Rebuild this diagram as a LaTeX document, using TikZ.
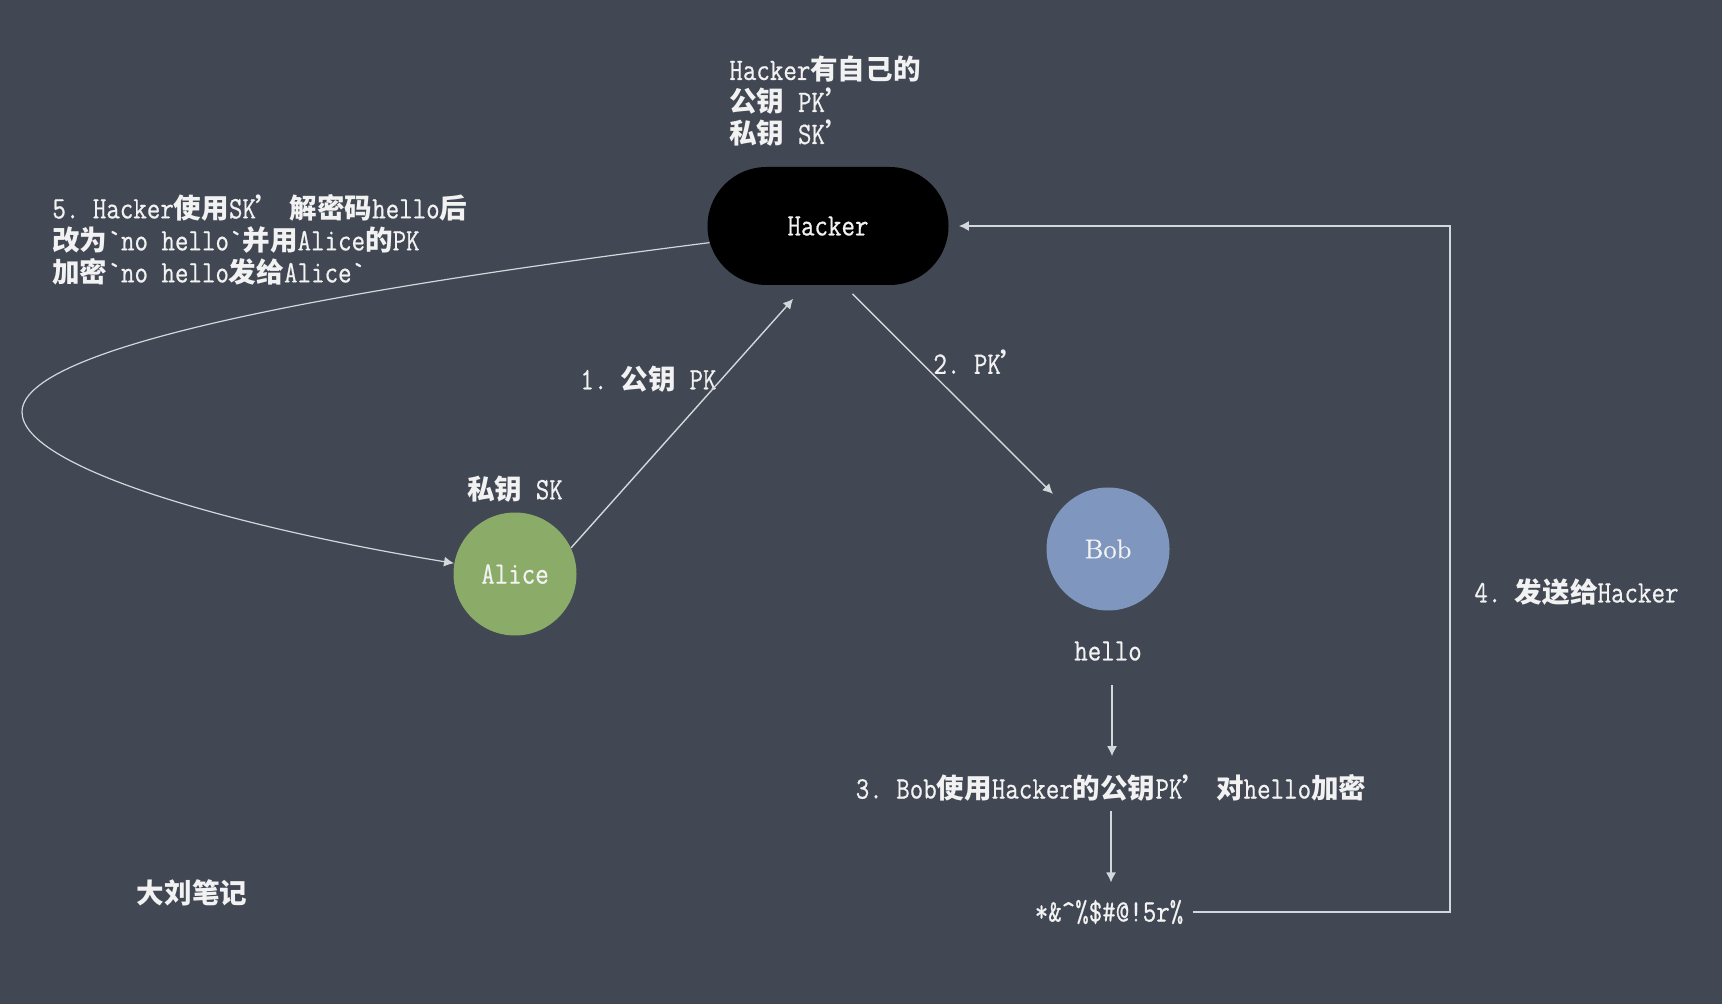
\documentclass[tikz,border=0pt]{standalone}
\usepackage{fontspec}
\setmonofont{Latin Modern Mono}[Scale=1.2, FakeStretch=0.84, FakeBold=0.6]
\newfontfamily\cjk{Noto Sans CJK SC}[Scale=1.06]
\newfontfamily\bobfont{Latin Modern Roman}[FakeBold=0.6]
\usetikzlibrary{arrows.meta,shapes.misc}
\newcommand{\zh}[1]{{\cjk\bfseries #1}}
\definecolor{board}{RGB}{65,71,83}
\definecolor{chalk}{RGB}{242,242,242}
\definecolor{alicegreen}{RGB}{138,172,104}
\definecolor{bobblue}{RGB}{127,151,190}
\definecolor{linec}{RGB}{212,215,219}
\begin{document}
\begin{tikzpicture}[x=0.5pt,y=-0.5pt,
  txt/.style={text=chalk, font=\ttfamily\fontsize{13}{16}\selectfont, inner sep=0pt},
  conn/.style={draw=linec, line width=0.7pt},
  arr/.style={conn, -{Latex[length=5pt,width=5pt]}},
]
\fill[board] (0,0) rectangle (1722,1004);
\useasboundingbox (0,0) rectangle (1722,1004);

\node[rounded rectangle, fill=black, minimum width=120.5pt, minimum height=59pt, inner sep=0pt, txt] (hacker) at (828,226) {Hacker};
\node[circle, fill=alicegreen, minimum size=61.5pt, txt] (alice) at (515,574) {Alice};
\node[circle, fill=bobblue, minimum size=61.5pt, txt, font=\bobfont\fontsize{13.5}{16}\selectfont] (bob) at (1108,549) {Bob};

\node[txt, anchor=north west, align=left] (hinfo) at (729,56) {Hacker\zh{有自己的}\\ \zh{公钥} PK\zh{’}\\ \zh{私钥} SK\zh{’}};
\node[txt, anchor=north west, align=left] (s5) at (52,194) {5. Hacker\zh{使用}SK\zh{’}\hspace{3pt}\zh{解密码}hello\zh{后}\\ \zh{改为}`no hello`\zh{并用}Alice\zh{的}PK\\ \zh{加密}`no hello\zh{发给}Alice`};

\node[txt] (sk) at (515,489) {\zh{私钥} SK};
\node[txt] (hello) at (1108,651) {hello};
\node[txt] (s3) at (1111,788) {3. Bob\zh{使用}Hacker\zh{的公钥}PK\zh{’}\hspace{3pt}\zh{对}hello\zh{加密}};
\node[txt] (cipher) at (1109,912) {*\&\textasciicircum\%\$\#@!5r\%};
\node[txt, anchor=west] (s4) at (1474,592) {4. \zh{发送给}Hacker};
\node[txt, anchor=west] (s1) at (580,379) {1. \zh{公钥} PK};
\node[txt, anchor=west] (s2) at (933,362) {2. PK\zh{’}};
\node[txt] (note) at (192,893) {\zh{大刘笔记}};

\coordinate (c4) at (1450,568);

\draw[arr, shorten >=9pt] (alice.25) -- (hacker.249);
\draw[arr, shorten <=6pt, shorten >=8pt] (hacker.285) -- (bob.135);
\draw[arr, shorten <=12pt, shorten >=9pt] ([xshift=2pt]hello.south) -- ([xshift=2pt]hello.south |- s3.north);
\draw[arr, shorten <=4.5pt, shorten >=8.5pt] (s3.south) -- (s3.south |- cipher.north);
\draw[arr, shorten <=4.5pt, shorten >=5pt] (cipher.east) -| (c4) |- (hacker.east);
\draw[arr, line width=0.6pt] (hacker.188) .. controls (400,282) and (22,340) .. (22,412) .. controls (22,470) and (250,530) .. (alice.170);
\end{tikzpicture}
\end{document}
